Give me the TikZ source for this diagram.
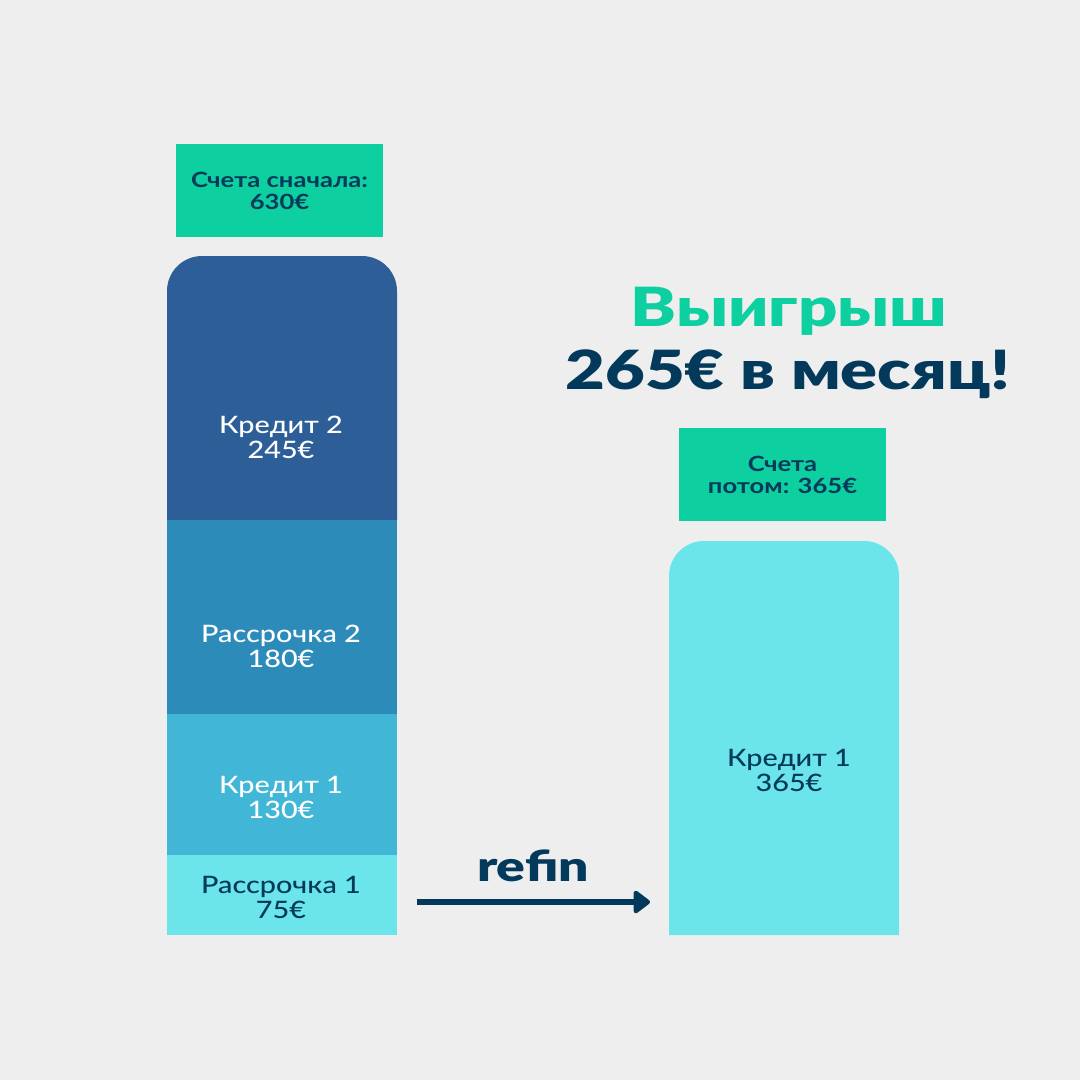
\documentclass[tikz,border=0pt]{standalone}
\usepackage{fontspec}
\setmainfont{Lato}[FakeStretch=1.22]
\newfontfamily\heavyfont{Lato Black}[FakeStretch=1.27]
\newfontfamily\medfont{Lato Medium}[FakeStretch=1.2]
\usetikzlibrary{arrows.meta}
\definecolor{bg}{HTML}{EEEEEE}
\definecolor{green}{HTML}{0ECFA0}
\definecolor{navy}{HTML}{03395A}
\definecolor{cA}{HTML}{2E5E97}
\definecolor{cB}{HTML}{2D8BBA}
\definecolor{cC}{HTML}{42B6D6}
\definecolor{cD}{HTML}{6BE5E9}
\tikzset{
  blocklbl/.style={align=center,inner sep=0pt,font=\medfont\fontsize{24}{25}\selectfont},
  headlbl/.style={fill=green,text=navy,align=center,inner sep=0pt,font=\bfseries\fontsize{21}{22}\selectfont},
  arrowline/.style={draw=navy,line width=6pt,-{Triangle[round,length=18pt,width=26pt]}},
}
\begin{document}
\begin{tikzpicture}[x=1pt,y=-1pt]
\useasboundingbox (0,0) rectangle (1080,1080);
\fill[bg] (0,0) rectangle (1080,1080);
% left stack
\fill[cA] (167,520) [rounded corners=35pt] -- (167,256) -- (397,256) [sharp corners] -- (397,520) -- cycle;
\fill[cB] (167,520) rectangle (397,714);
\fill[cC] (167,714) rectangle (397,855);
\fill[cD] (167,855) rectangle (397,935);
% right bar
\fill[cD] (669,935) [rounded corners=35pt] -- (669,541) -- (899,541) [sharp corners] -- (899,935) -- cycle;
% header boxes
\node[headlbl,minimum width=207pt,minimum height=93pt] (hl) at (279.5,190.5) {Счета сначала:\\630€};
\node[headlbl,minimum width=207pt,minimum height=93pt] (hr) at (782.5,474.5) {Счета\\потом: 365€};
% block labels
\node[blocklbl,text=white] (k2) at (281,437) {Кредит 2\\245€};
\node[blocklbl,text=white] (r2) at (281,646) {Рассрочка 2\\180€};
\node[blocklbl,text=white] (k1) at (281,797) {Кредит 1\\130€};
\node[blocklbl,text=navy] (r1) at (281,897) {Рассрочка 1\\75€};
\node[blocklbl,text=navy] (k1r) at (789,770) {Кредит 1\\365€};
% headline
\node[inner sep=0pt,text=green,font=\heavyfont\fontsize{54}{60}\selectfont] (win) at (789,311) {Выигрыш};
\node[inner sep=0pt,text=navy,font=\heavyfont\fontsize{54}{60}\selectfont] (amt) at (788,374) {265€ в месяц!};
% arrow
\coordinate (as) at (417,902);
\coordinate (ae) at (650,902);
\draw[arrowline] (as) -- (ae);
\node[inner sep=0pt,text=navy,font=\heavyfont\fontsize{42}{44}\selectfont] (refin) at (533,866) {refin};
\end{tikzpicture}
\end{document}
